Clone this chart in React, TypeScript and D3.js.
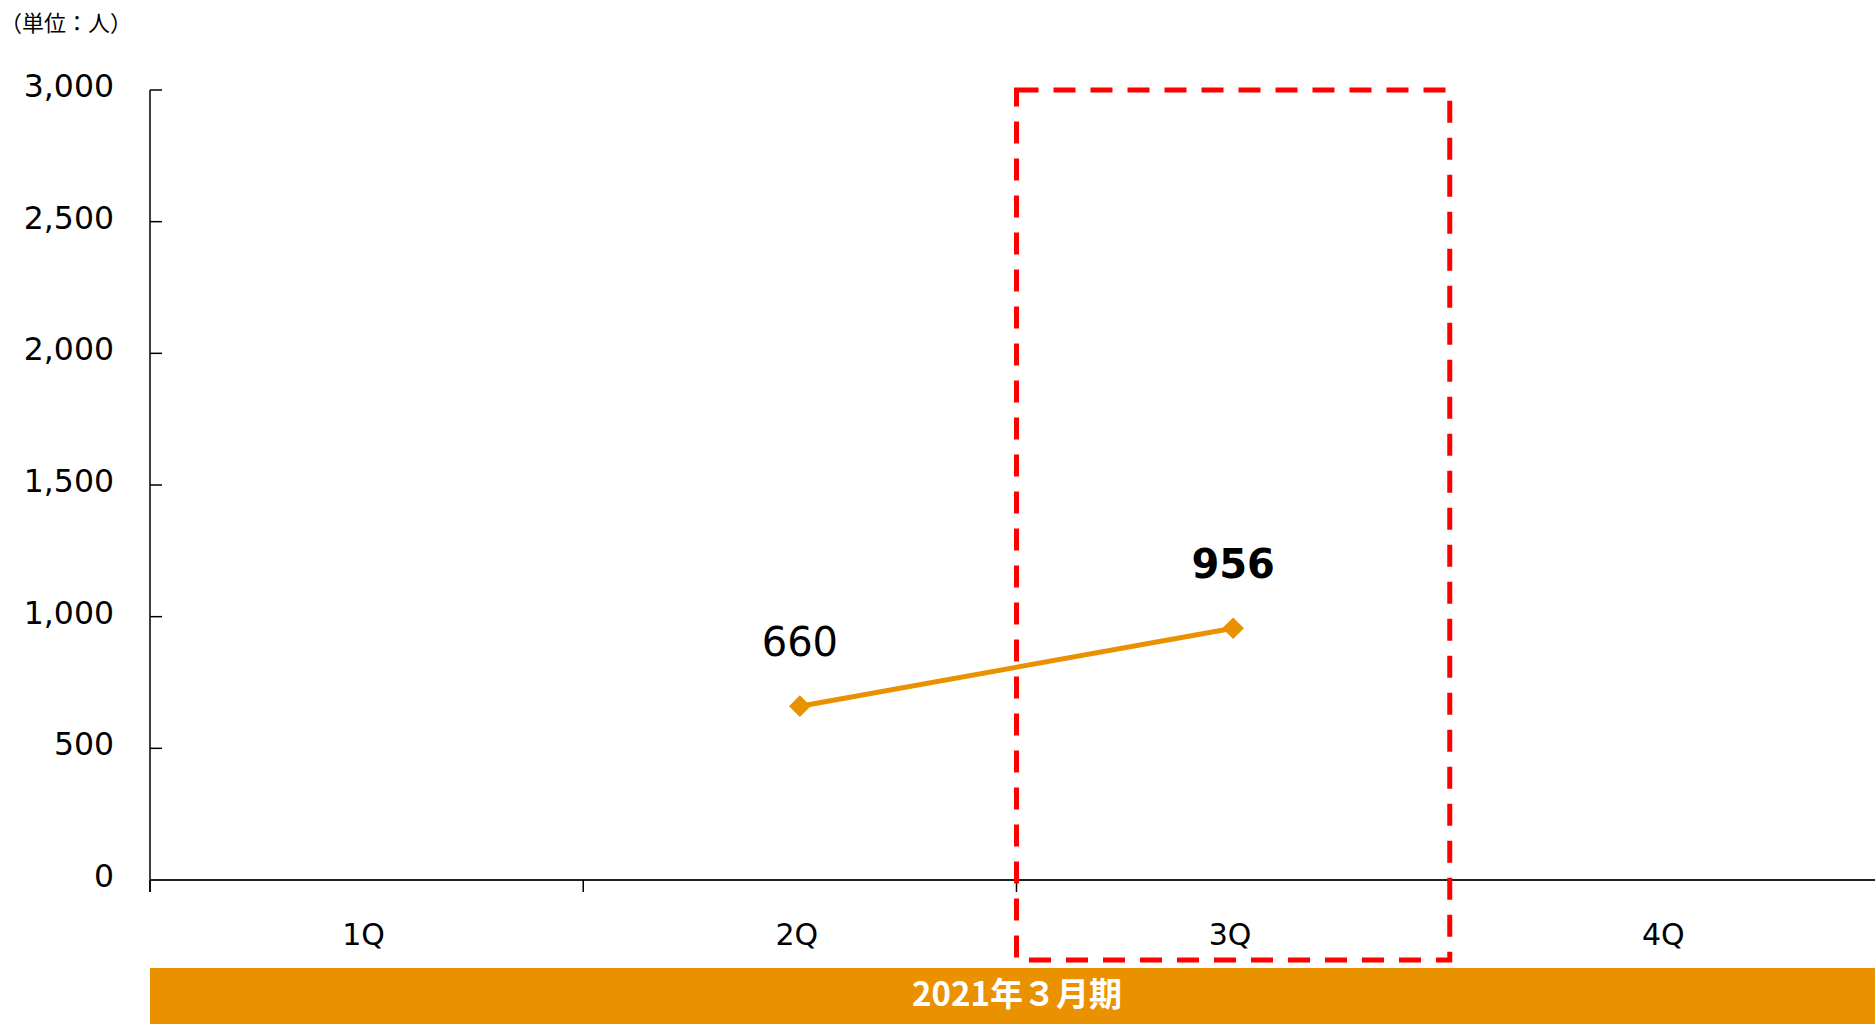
import React from "react";
import * as d3 from "d3";

const categories = ["1Q", "2Q", "3Q", "4Q"];
const seriesValues: (number | null)[] = [null, 660, 956, null];
const boldLabel = [false, false, true, false];
const yTicks = [0, 500, 1000, 1500, 2000, 2500, 3000];
const highlightCategory = "3Q";
const periodLabel = "2021年３月期";
const unitLabel = "（単位：人）";

const W = 1875;
const H = 1024;
const ORANGE = "#EA9100";

export default function App() {
  const x = d3.scaleBand<string>().domain(categories).range([150, 1883]).paddingInner(0).paddingOuter(0);
  const y = d3.scaleLinear().domain([0, 3000]).range([880, 90]);
  const pts = categories
    .map((c, i) => ({ c, v: seriesValues[i], b: boldLabel[i] }))
    .filter((d) => d.v != null) as { c: string; v: number; b: boolean }[];
  const line = d3
    .line<{ c: string; v: number }>()
    .x((d) => (x(d.c) as number) + x.bandwidth() / 2)
    .y((d) => y(d.v));
  const diamond = d3.symbol().type(d3.symbolDiamond2).size(300)();
  const hx0 = x(highlightCategory) as number;
  const hx1 = hx0 + x.bandwidth();
  const numFont = "'DejaVu Sans', Verdana, sans-serif";
  const cjkFont = "'Noto Sans CJK JP', sans-serif";
  const bounds = [...categories.map((c) => x(c) as number), 1883];

  return (
    <svg
      width={W}
      height={H}
      style={{ position: "absolute", left: 0, top: 0, display: "block", background: "#fff" }}
    >
      <text x={0} y={31} fontFamily={cjkFont} fontSize={22} fill="#000">
        {unitLabel}
      </text>
      {/* y axis */}
      <line x1={150} x2={150} y1={y(3000)} y2={892} stroke="#000" strokeWidth={1.5} />
      {yTicks.map((t) => (
        <g key={t}>
          <line x1={150} x2={162} y1={y(t)} y2={y(t)} stroke="#000" strokeWidth={1.5} />
          <text
            x={114}
            y={y(t) + 7}
            textAnchor="end"
            fontFamily={numFont}
            fontSize={31.5}
            fill="#000"
          >
            {d3.format(",")(t)}
          </text>
        </g>
      ))}
      {/* x axis */}
      <line x1={150} x2={W} y1={880} y2={880} stroke="#222" strokeWidth={2} />
      {bounds.map((b, i) => (
        <line key={i} x1={b} x2={b} y1={880} y2={892} stroke="#000" strokeWidth={1.5} />
      ))}
      {categories.map((c) => (
        <text
          key={c}
          x={(x(c) as number) + x.bandwidth() / 2 - 3}
          y={945}
          textAnchor="middle"
          fontFamily={numFont}
          fontSize={30}
          fill="#000"
        >
          {c}
        </text>
      ))}
      {/* line */}
      <path d={line(pts) || ""} fill="none" stroke={ORANGE} strokeWidth={5} />
      {pts.map((d) => (
        <g key={d.c}>
          <path
            d={diamond || ""}
            transform={`translate(${(x(d.c) as number) + x.bandwidth() / 2},${y(d.v)})`}
            fill={ORANGE}
          />
          <text
            x={(x(d.c) as number) + x.bandwidth() / 2}
            y={y(d.v) - 50}
            textAnchor="middle"
            fontFamily={numFont}
            fontWeight={d.b ? "bold" : "normal"}
            fontSize={40}
            fill="#000"
          >
            {d3.format(",")(d.v)}
          </text>
        </g>
      ))}
      {/* highlight rect */}
      <rect
        x={hx0}
        y={y(3000)}
        width={hx1 - hx0}
        height={960 - y(3000)}
        fill="none"
        stroke="#FF0000"
        strokeWidth={5}
        strokeDasharray="22 15"
      />
      {/* period bar */}
      <rect x={150} y={968} width={W - 150} height={H - 968} fill={ORANGE} />
      <text
        x={1017}
        y={1006}
        textAnchor="middle"
        fontFamily={cjkFont}
        fontWeight="bold"
        fontSize={33}
        fill="#fff"
      >
        {periodLabel}
      </text>
    </svg>
  );
}
